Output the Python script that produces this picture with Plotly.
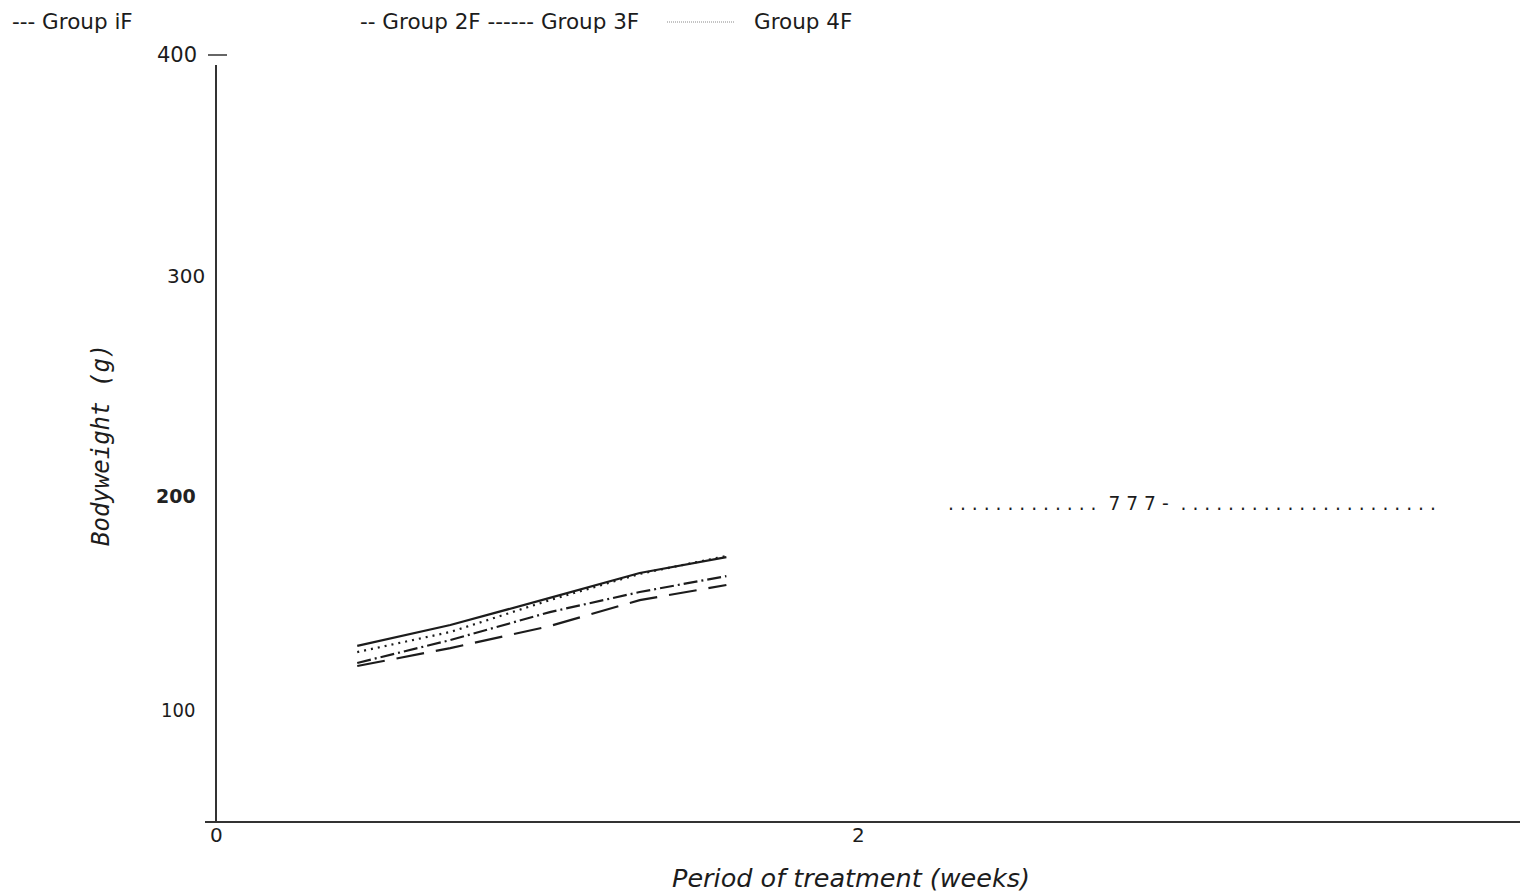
import plotly.graph_objects as go

# Bodyweight of the four female groups over the treatment period
weeks = [0.44, 0.73, 1.04, 1.32, 1.59]
group_1f = [129.3, 138.9, 151.3, 162.7, 170.0]
group_2f = [126.5, 135.7, 150.3, 162.3, 170.5]
group_3f = [121.5, 132.0, 144.8, 154.0, 161.3]
group_4f = [120.1, 128.3, 138.4, 150.3, 157.2]

series_names = ["Group 1F", "Group 4F", "Group 3F", "Group 2F"]
series_values = [group_1f, group_2f, group_3f, group_4f]
series_dash = ["solid", "2px,5px", "14px,4px,2px,4px", "28px,12px"]

y_tick_values = [400, 300, 200, 100]
y_tick_labels = ["400", "300", "200", "100"]
x_tick_values = [0, 2]
x_tick_labels = ["0", "2"]

W, H = 1526, 895
L, R, T, B = 216, 6, 40, 73
PW, PH = W - L - R, H - T - B


def px(x):
    return (x - L) / PW


def py(y):
    return (H - B - y) / PH


INK = "#1c1c1c"
FONT = "DejaVu Sans"

fig = go.Figure()
for name, vals, dash in zip(series_names, series_values, series_dash):
    fig.add_trace(go.Scatter(
        x=weeks, y=vals, mode="lines", name=name, showlegend=False,
        line=dict(color=INK, width=2.2, dash=dash),
    ))

annotations = []
# legend row written as text
legend_items = [("--- Group iF", 10), ("-- Group 2F ------ Group 3F", 358), ("Group 4F", 752)]
for text, x0 in legend_items:
    annotations.append(dict(text=text, x=px(x0), y=py(22), xref="paper", yref="paper",
                            xanchor="left", yanchor="middle", showarrow=False,
                            font=dict(family=FONT, size=21.5, color=INK)))

# y tick labels
tick_fonts = [
    dict(family=FONT, size=21, color=INK),
    dict(family=FONT, size=20, color=INK),
    dict(family=FONT, size=19, color="#222", weight="bold"),
    dict(family="DejaVu Sans Condensed", size=20, color=INK),
]
tick_right = [199, 207, 198, 197]
tick_shift = [0, -3, -4, 0]
for v, lab, f, xr, ys in zip(y_tick_values, y_tick_labels, tick_fonts, tick_right, tick_shift):
    annotations.append(dict(text=lab, x=px(xr), y=v, xref="paper", yref="y",
                            xanchor="right", yanchor="middle", yshift=ys,
                            showarrow=False, font=f))

# x tick labels
for v, lab in zip(x_tick_values, x_tick_labels):
    annotations.append(dict(text=lab, x=v, y=py(835), xref="x", yref="paper",
                            xanchor="center", yanchor="middle", showarrow=False,
                            font=dict(family=FONT, size=20, color=INK)))

# axis titles
annotations.append(dict(text="Period of treatment (weeks)", x=px(851), y=py(878),
                        xref="paper", yref="paper", xanchor="center", yanchor="middle",
                        showarrow=False,
                        font=dict(family=FONT, size=25.5, color=INK, style="italic")))
annotations.append(dict(text="Bodyweight (g)", x=px(101), y=py(445),
                        xref="paper", yref="paper", xanchor="center", yanchor="middle",
                        textangle=-90, showarrow=False,
                        font=dict(family="DejaVu Sans Mono", size=24, color=INK, style="italic")))

# dotted note line at right
note = " ".join(["."] * 13) + "  7 7 7 -  " + " ".join(["."] * 22)
annotations.append(dict(text=note, x=px(1192), y=py(503), xref="paper", yref="paper",
                        xanchor="center", yanchor="middle", showarrow=False,
                        font=dict(family=FONT, size=18.7, color=INK)))

shapes = [
    # y axis
    dict(type="line", xref="paper", yref="paper", x0=px(216), x1=px(216), y0=py(65), y1=py(822),
         line=dict(color="#333", width=2)),
    # x axis
    dict(type="line", xref="paper", yref="paper", x0=px(205), x1=px(1520), y0=py(822), y1=py(822),
         line=dict(color="#333", width=2)),
    # tick mark beside 400
    dict(type="line", xref="paper", yref="y", x0=px(208), x1=px(227), y0=400, y1=400,
         line=dict(color="#333", width=1.5)),
    # legend sample for the dotted series
    dict(type="line", xref="paper", yref="paper", x0=px(667), x1=px(735), y0=py(22), y1=py(22),
         line=dict(color="#888", width=1, dash="1px,1px")),
]

fig.update_layout(
    width=W, height=H,
    margin=dict(l=L, r=R, t=T, b=B),
    paper_bgcolor="white", plot_bgcolor="white",
    xaxis=dict(range=[0, PW / 321.0], showgrid=False, zeroline=False, showline=False,
               showticklabels=False, ticks=""),
    yaxis=dict(range=[400 - (822 - 55) / 2.183, 400 + (55 - 40) / 2.183], showgrid=False,
               zeroline=False, showline=False, showticklabels=False, ticks=""),
    annotations=annotations,
    shapes=shapes,
    showlegend=False,
)

fig.write_html("out.html")
